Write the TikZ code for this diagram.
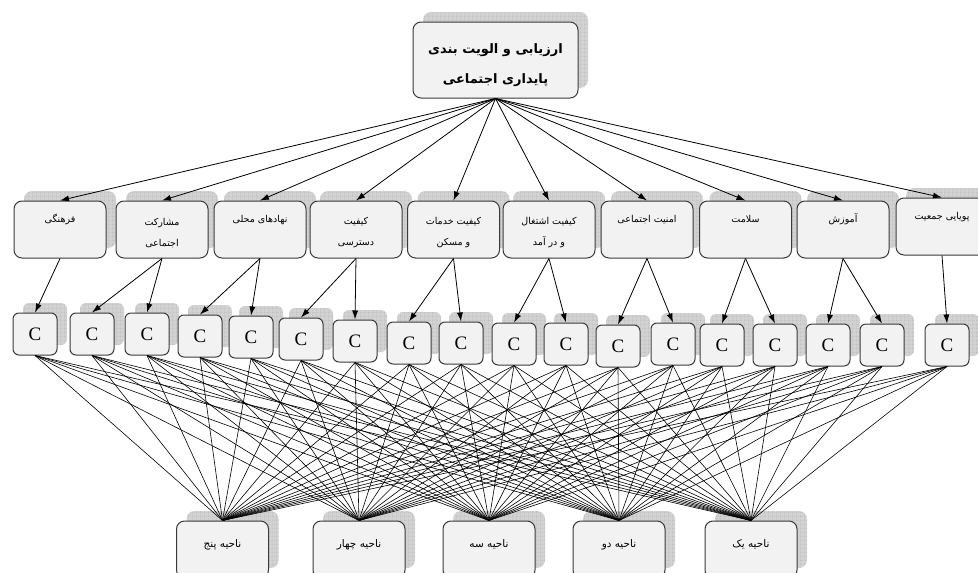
\documentclass[tikz,border=0pt]{standalone}
\usepackage{fontspec}
\setmainfont{Liberation Serif}
\newfontfamily\arabicfont[Script=Arabic]{DejaVu Sans}
\TeXXeTstate=1
\usetikzlibrary{arrows.meta,shadows,patterns}
\definecolor{boxfill}{HTML}{F2F2F2}
\definecolor{boxline}{HTML}{3A3A3A}
\colorlet{shadowgray}{gray!35}
\newcommand{\prs}[1]{{\arabicfont\beginR #1\endR}}

% wider grid than the library one
\pgfdeclarepatternformonly{widegrid}{\pgfpointorigin}{\pgfqpoint{4pt}{4pt}}{\pgfqpoint{4pt}{4pt}}{%
  \pgfsetlinewidth{0.5pt}
  \pgfpathmoveto{\pgfqpoint{0pt}{0pt}}\pgfpathlineto{\pgfqpoint{4pt}{0pt}}
  \pgfpathmoveto{\pgfqpoint{0pt}{0pt}}\pgfpathlineto{\pgfqpoint{0pt}{4pt}}
  \pgfusepath{stroke}}

\tikzset{
  gridshadow/.style={
    general shadow={shadow xshift=10pt, shadow yshift=10pt, fill=shadowgray},
    general shadow={shadow xshift=10pt, shadow yshift=10pt, pattern=widegrid, pattern color=gray!80}},
  nodebox/.style={rectangle, rounded corners=8pt, draw=boxline, line width=1pt,
    fill=boxfill, gridshadow, inner sep=2pt, align=center},
  goalbox/.style={nodebox, minimum width=165pt, minimum height=76pt,
    font=\fontsize{13}{30}\selectfont\bfseries},
  critbox/.style={nodebox, minimum width=92pt, minimum height=57pt,
    font=\fontsize{9.5}{21}\selectfont},
  cbox/.style={nodebox, rounded corners=6pt, minimum width=44pt, minimum height=42pt,
    font=\fontsize{19}{19}\selectfont},
  zonebox/.style={nodebox, minimum width=92pt, minimum height=57pt,
    font=\fontsize{10.5}{21}\selectfont},
  arr/.style={-{Latex[length=9pt,width=6pt]}, line width=0.8pt},
  link/.style={line width=0.6pt}
}

\begin{document}
\begin{tikzpicture}[x=1pt, y=-1pt]
  \useasboundingbox (0,0) rectangle (978,573);

  % goal
  \node[goalbox] (goal) at (495.5,60) {\rule{0pt}{20pt}\prs{ارزیابی و الویت بندی}\\\prs{پایداری اجتماعی}};

  % criteria row
  \foreach \i/\x/\y/\txt in {
      1/60/229.5/{\prs{فرهنگی}\\\strut},
      2/162/229.5/{\prs{مشارکت}\\\prs{اجتماعی}},
      3/260/229.5/{\prs{نهادهای محلی}\\\strut},
      4/356/229.5/{\prs{کیفیت}\\\prs{دسترسی}},
      5/453.5/229.5/{\prs{کیفیت خدمات}\\\prs{و مسکن}},
      6/549/229.5/{\prs{کیفیت  اشتغال}\\\prs{و  در آمد}},
      7/647/229.5/{\prs{امنیت اجتماعی}\\\strut},
      8/745.5/229.5/{\prs{سلامت}\\\strut},
      9/843/229.5/{\prs{آموزش}\\\strut},
      10/942/226.5/{\prs{پویایی جمعیت}\\\strut}}
    \node[critbox] (k\i) at (\x,\y) {\rule{0pt}{14pt}\txt};

  % indicator row
  \foreach \i/\x/\y in {1/35/334, 2/92/334, 3/147/334, 4/200/336, 5/251/337,
      6/301/339, 7/355/341, 8/409/343, 9/461/343, 10/514/344, 11/566/344,
      12/618/346, 13/673/344, 14/722/345, 15/775/345, 16/828/345, 17/882/345,
      18/947/345}
    \node[cbox] (c\i) at (\x,\y) {C};

  % regions
  \foreach \i/\x/\txt in {1/222.5/{ناحیه پنج}, 2/359/{ناحیه چهار}, 3/489/{ناحیه سه},
      4/619/{ناحیه دو}, 5/751/{ناحیه یک}}
    \node[zonebox] (z\i) at (\x,549.5) {\prs{\txt}\\[-10pt]};

  % goal -> criteria
  \foreach \i in {1,...,10}
    \draw[arr] (goal.south) -- (k\i.north);

  % criteria -> indicators
  \foreach \k/\c in {1/1, 2/2, 2/3, 3/4, 3/5, 4/6, 4/7, 5/8, 5/9, 6/10, 6/11,
      7/12, 7/13, 8/14, 8/15, 9/16, 9/17, 10/18}
    \draw[arr] (k\k.south) -- (c\c.north);

  % indicators -> regions
  \foreach \c in {1,...,18}
    \foreach \z in {1,...,5}
      \draw[link] (c\c.south) -- (z\z.north);
\end{tikzpicture}
\end{document}
